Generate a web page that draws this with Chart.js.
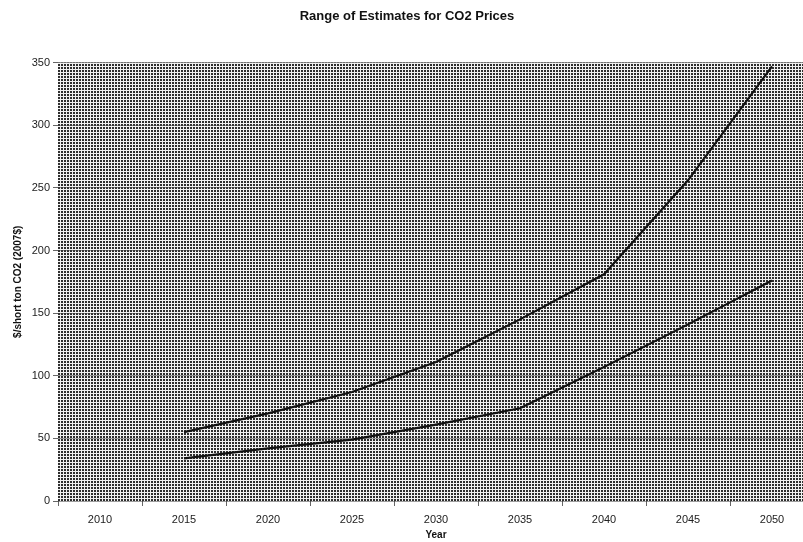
<!DOCTYPE html>
<html>
<head>
<meta charset="utf-8">
<script src="https://cdn.jsdelivr.net/npm/chart.js@4.4.0/dist/chart.umd.min.js"></script>
<style>
  html, body { margin: 0; padding: 0; background: #fff; overflow: hidden; }
  #wrap { width: 803px; height: 542px; overflow: hidden; }
</style>
</head>
<body>
<div id="wrap"><canvas id="co2Chart" width="830" height="542"></canvas></div>
<script>
const years = ['2010', '2015', '2020', '2025', '2030', '2035', '2040', '2045', '2050'];
const highEstimate = [null, 55, 70, 87, 111, 145, 181, 256, 347];
const lowEstimate = [null, 34, 42, 49, 61, 74, 107, 141, 176];

// halftone look of the plot background
function makePattern(ctx) {
  const tile = document.createElement('canvas');
  tile.width = 3; tile.height = 3;
  const t = tile.getContext('2d');
  t.fillStyle = '#f2f2f2';
  t.fillRect(0, 0, 3, 3);
  t.fillStyle = '#2e2e2e';
  t.fillRect(1, 1, 2, 2);
  return ctx.createPattern(tile, 'repeat');
}

const plotBackground = {
  id: 'plotBackground',
  beforeDraw(chart) {
    const { ctx, chartArea: a } = chart;
    ctx.save();
    ctx.fillStyle = makePattern(ctx);
    ctx.fillRect(a.left, a.top, a.right - a.left, a.bottom - a.top);
    ctx.restore();
  }
};

const ctx = document.getElementById('co2Chart').getContext('2d');
new Chart(ctx, {
  type: 'line',
  data: {
    labels: years,
    datasets: [
      { label: 'High', data: highEstimate, borderColor: '#111', borderWidth: 2.2, pointRadius: 0, tension: 0 },
      { label: 'Low', data: lowEstimate, borderColor: '#111', borderWidth: 2.2, pointRadius: 0, tension: 0 }
    ]
  },
  options: {
    responsive: false,
    animation: false,
    devicePixelRatio: 1,
    layout: { padding: { left: 0, right: 16, top: 0, bottom: 0 } },
    plugins: {
      legend: { display: false },
      tooltip: { enabled: false },
      title: {
        display: true,
        text: 'Range of Estimates for CO2 Prices',
        color: '#111',
        font: { family: 'Liberation Sans, Arial, sans-serif', size: 13, weight: 'bold' },
        padding: { top: 9, bottom: 38 }
      }
    },
    scales: {
      x: {
        offset: true,
        afterFit: s => { s.height = 41; },
        border: { display: false },
        grid: { offset: true, drawOnChartArea: false, drawTicks: true, tickLength: 5, color: '#666' },
        ticks: {
          color: '#222', padding: 7, maxRotation: 0, autoSkip: false,
          font: { family: 'Liberation Sans, Arial, sans-serif', size: 11 }
        },
        title: {
          display: true, text: 'Year', color: '#111',
          font: { family: 'Liberation Sans, Arial, sans-serif', size: 10, weight: 'bold' },
          padding: { top: 0, bottom: 1 }
        }
      },
      y: {
        min: 0, max: 350,
        afterFit: s => { s.width = 58; },
        border: { display: false },
        grid: { color: 'rgba(60,60,60,0.5)', lineWidth: 1, tickLength: 5, tickColor: '#666' },
        ticks: {
          stepSize: 50, color: '#222', padding: 3,
          font: { family: 'Liberation Sans, Arial, sans-serif', size: 11 }
        },
        title: {
          display: true, text: '$/short ton CO2 (2007$)', color: '#111',
          font: { family: 'Liberation Sans, Arial, sans-serif', size: 10, weight: 'bold' },
          padding: { top: 12, bottom: 0 }
        }
      }
    }
  },
  plugins: [plotBackground]
});
</script>
</body>
</html>
